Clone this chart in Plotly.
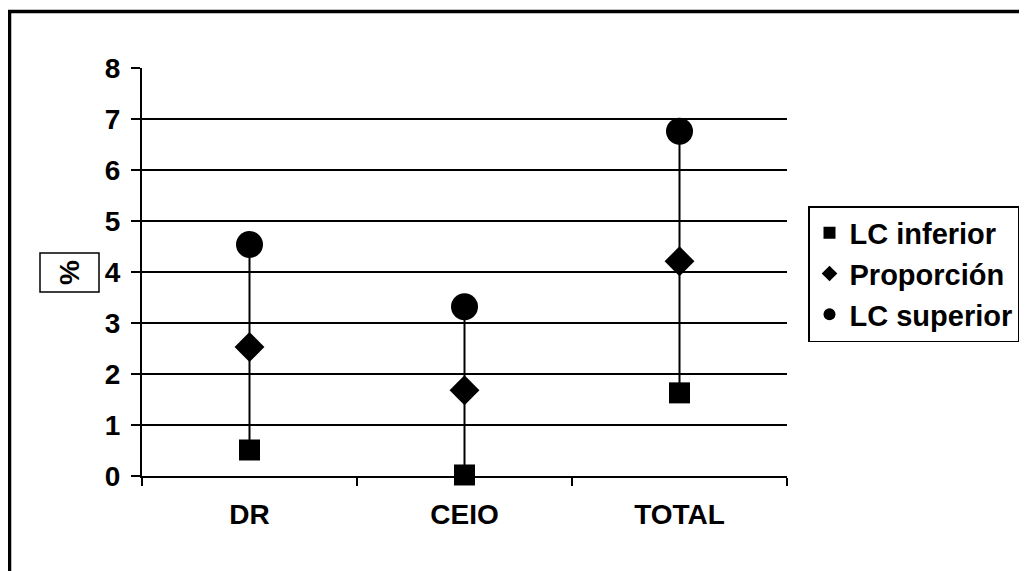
import plotly.graph_objects as go

categories = ["DR", "CEIO", "TOTAL"]
lc_inferior = [0.51, 0.02, 1.63]
proporcion = [2.53, 1.68, 4.21]
lc_superior = [4.54, 3.32, 6.76]
y_ticks = [0, 1, 2, 3, 4, 5, 6, 7, 8]

FONT = "Arial, Liberation Sans, sans-serif"

# high-low connecting lines built from the data arrays
hl_x, hl_y = [], []
for c, lo, hi in zip(categories, lc_inferior, lc_superior):
    hl_x += [c, c, None]
    hl_y += [lo, hi, None]

fig = go.Figure()
fig.add_trace(go.Scatter(x=hl_x, y=hl_y, mode="lines",
                         line=dict(color="black", width=2),
                         showlegend=False, hoverinfo="skip", cliponaxis=False))
fig.add_trace(go.Scatter(x=categories, y=lc_inferior, mode="markers", name="LC inferior",
                         marker=dict(symbol="square", size=21, color="black"), cliponaxis=False))
fig.add_trace(go.Scatter(x=categories, y=proporcion, mode="markers", name="Proporción",
                         marker=dict(symbol="diamond", size=23, color="black"), cliponaxis=False))
fig.add_trace(go.Scatter(x=categories, y=lc_superior, mode="markers", name="LC superior",
                         marker=dict(symbol="circle", size=27, color="black"), cliponaxis=False))

OFF = 8  # page body margin
W, H = 1027, 571
L, R, T, B = 134, 248, 60, 103
pw, ph = W - L - R, H - T - B

def px(xs):
    return (xs - OFF - L) / pw

def py(ys):
    return (H - B - (ys - OFF)) / ph

fig.update_layout(
    width=W, height=H,
    margin=dict(l=L, r=R, t=T, b=B),
    paper_bgcolor="white", plot_bgcolor="white",
    font=dict(family=FONT, color="black", size=28, weight="bold"),
    xaxis=dict(type="category", range=[-0.5, 2.5], tickson="boundaries",
               ticks="outside", ticklen=8, tickwidth=1.5, tickcolor="black",
               showline=True, linecolor="black", linewidth=2, showgrid=False,
               tickfont=dict(family=FONT, size=28, weight="bold"), ticklabelstandoff=12),
    yaxis=dict(range=[0, 8], tickvals=y_ticks, ticks="outside", ticklen=9,
               tickwidth=1.5, tickcolor="black", showline=True, linecolor="black",
               linewidth=2, showgrid=True, gridcolor="black", gridwidth=1.5,
               zeroline=False, tickfont=dict(family=FONT, size=28, weight="bold"),
               ticklabelstandoff=5),
    legend=dict(x=px(808), y=py(206), xanchor="left", yanchor="top",
                bordercolor="black", borderwidth=1.5, bgcolor="white",
                font=dict(family=FONT, size=29, weight="bold"),
                itemsizing="constant", itemwidth=30, tracegroupgap=0),
    shapes=[
        dict(type="rect", xref="paper", yref="paper",
             x0=px(9.5), x1=px(1150), y0=py(700), y1=py(11.5),
             line=dict(color="black", width=3.5)),
        dict(type="rect", xref="paper", yref="paper",
             x0=px(40), x1=px(99), y0=py(292), y1=py(253),
             line=dict(color="black", width=1.5)),
    ],
    annotations=[
        dict(text="%", xref="paper", yref="paper", x=px(69.5), y=py(272.5),
             showarrow=False, textangle=-90, xanchor="center", yanchor="middle",
             font=dict(family=FONT, size=28, weight="bold")),
    ],
)

fig.write_html("out.html")
